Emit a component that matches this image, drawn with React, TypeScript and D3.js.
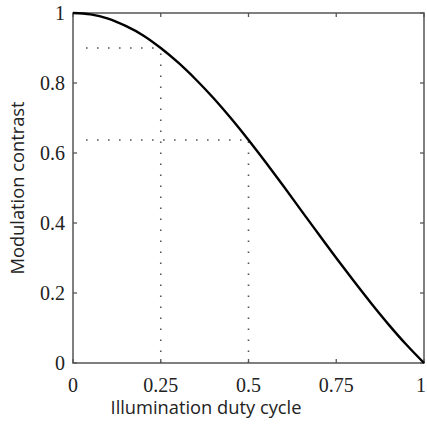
import React from "react";
import * as d3 from "d3";

// Data
const dutyCycle = [0, 0.05, 0.1, 0.15, 0.2, 0.25, 0.3, 0.35, 0.4, 0.45, 0.5, 0.55, 0.6, 0.65, 0.7, 0.75, 0.8, 0.85, 0.9, 0.95, 1];
const contrast = [1, 0.996, 0.984, 0.963, 0.936, 0.9, 0.858, 0.81, 0.757, 0.699, 0.637, 0.572, 0.505, 0.436, 0.368, 0.3, 0.234, 0.17, 0.109, 0.052, 0];
const xTicks = [0, 0.25, 0.5, 0.75, 1];
const xTickLabels = ["0", "0.25", "0.5", "0.75", "1"];
const yTicks = [0, 0.2, 0.4, 0.6, 0.8, 1];
const yTickLabels = ["0", "0.2", "0.4", "0.6", "0.8", "1"];
const markerX = [0.25, 0.5];
const markerY = [0.9, 0.637];
const xLabel = "Illumination duty cycle";
const yLabel = "Modulation contrast";

const W = 427, H = 425;
const L = 73, R = 424, T = 13, B = 363;

export default function App() {
  const x = d3.scaleLinear().domain([0, 1]).range([L, R]);
  const y = d3.scaleLinear().domain([0, 1]).range([B, T]);
  const pts = dutyCycle.map((d, i) => [d, contrast[i]] as [number, number]);
  const line = d3.line<[number, number]>().x(d => x(d[0])).y(d => y(d[1])).curve(d3.curveCatmullRom);
  const serif = { fontFamily: "Liberation Serif", fontSize: "20px" };
  const sans = { fontFamily: "'Open Sans', 'Noto Sans', sans-serif", fontSize: "18.3px" };
  const axisColor = "#555";
  const tickLen = 4;
  return (
    <svg width={W} height={H} style={{ position: "absolute", left: 0, top: 0, background: "#fff" }}>
      {/* dotted guides */}
      {markerX.map((mx, i) => (
        <g key={"m" + i} stroke="#555" strokeWidth={1.6} strokeDasharray="1.6 9.4" fill="none">
          <path d={`M${x(0) + 13},${y(markerY[i])}H${x(mx)}`} />
          <path d={`M${x(mx)},${y(0)}V${y(markerY[i])}`} />
        </g>
      ))}
      {/* box */}
      <rect x={L} y={T} width={R - L} height={B - T} fill="none" stroke={axisColor} strokeWidth={1.5} />
      {/* ticks */}
      {xTicks.map((t, i) => (
        <g key={"xt" + i} stroke={axisColor} strokeWidth={1.3}>
          <line x1={x(t)} x2={x(t)} y1={B} y2={B - tickLen} />
          <line x1={x(t)} x2={x(t)} y1={T} y2={T + tickLen} />
        </g>
      ))}
      {yTicks.map((t, i) => (
        <g key={"yt" + i} stroke={axisColor} strokeWidth={1.3}>
          <line x1={L} x2={L + tickLen} y1={y(t)} y2={y(t)} />
          <line x1={R} x2={R - tickLen} y1={y(t)} y2={y(t)} />
        </g>
      ))}
      {/* curve */}
      <path d={line(pts) || ""} fill="none" stroke="#000" strokeWidth={2.4} />
      {/* tick labels */}
      {xTicks.map((t, i) => (
        <text key={"xl" + i} x={Math.min(x(t), W - 6)} y={392} textAnchor="middle" style={serif} fill="#222">
          {xTickLabels[i]}
        </text>
      ))}
      {yTicks.map((t, i) => (
        <text key={"yl" + i} x={65} y={y(t)} dy="0.33em" textAnchor="end" style={serif} fill="#222">
          {yTickLabels[i]}
        </text>
      ))}
      {/* axis labels */}
      <text x={206} y={414} textAnchor="middle" style={sans} fill="#222">{xLabel}</text>
      <text transform={`translate(24,${(T + B) / 2}) rotate(-90)`} textAnchor="middle" style={sans} fill="#222">{yLabel}</text>
    </svg>
  );
}
